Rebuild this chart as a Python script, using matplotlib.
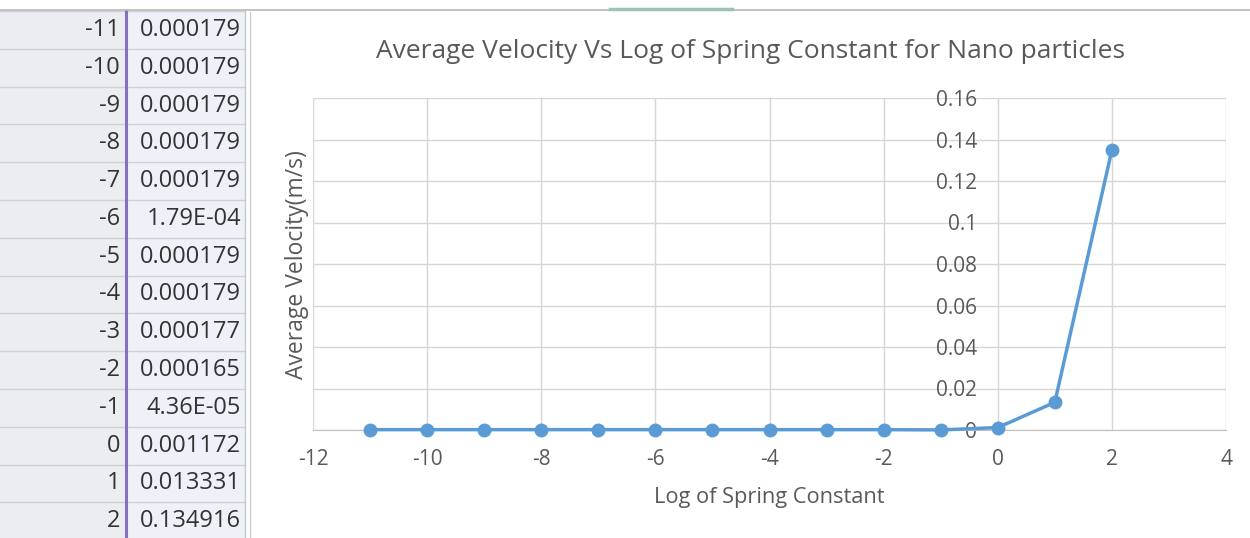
import matplotlib
matplotlib.use("Agg")
import matplotlib.pyplot as plt
from matplotlib.lines import Line2D
from matplotlib.patches import Rectangle

plt.rcParams['font.family'] = ['Open Sans', 'DejaVu Sans']

# ---- data ----
log_k = [-11, -10, -9, -8, -7, -6, -5, -4, -3, -2, -1, 0, 1, 2]
avg_velocity = [0.000179, 0.000179, 0.000179, 0.000179, 0.000179, 0.000179,
                0.000179, 0.000179, 0.000177, 0.000165, 4.36e-05, 0.001172,
                0.013331, 0.134916]
cell_text = ["0.000179", "0.000179", "0.000179", "0.000179", "0.000179",
             "1.79E-04", "0.000179", "0.000179", "0.000177", "0.000165",
             "4.36E-05", "0.001172", "0.013331", "0.134916"]
x_ticks = [-12, -10, -8, -6, -4, -2, 0, 2, 4]
y_ticks = [0, 0.02, 0.04, 0.06, 0.08, 0.1, 0.12, 0.14, 0.16]
y_tick_labels = ["0", "0.02", "0.04", "0.06", "0.08", "0.1", "0.12", "0.14", "0.16"]

title = "Average Velocity Vs Log of Spring Constant for Nano particles"
xlabel = "Log of Spring Constant"
ylabel = "Average Velocity(m/s)"

W, H = 1250, 538
fig = plt.figure(figsize=(W / 100, H / 100), dpi=100)
fig.patch.set_facecolor('white')

def fx(px):
    return px / W

def fy(py):
    return 1 - py / H

text_gray = '#595959'
grid_gray = '#D6D6D6'
line_blue = '#5B9BD5'

# ---- spreadsheet part (left) ----
row_top = 11
row_h = 37.8
n = len(log_k)
fig.patches.append(Rectangle((0, 0), fx(126), 1, transform=fig.transFigure,
                             facecolor='#ECECF3', edgecolor='none', zorder=0))
fig.patches.append(Rectangle((fx(126), 0), fx(245 - 126), 1, transform=fig.transFigure,
                             facecolor='#EEF1F8', edgecolor='none', zorder=0))
fig.patches.append(Rectangle((0, fy(row_top)), fx(1250), 1 - fy(row_top), transform=fig.transFigure,
                             facecolor='white', edgecolor='none', zorder=0))
for k in range(n + 1):
    yy = fy(row_top + k * row_h)
    fig.add_artist(Line2D([0, fx(245)], [yy, yy], color='#D0D0D6', lw=1.0))
fig.add_artist(Line2D([fx(245), fx(245)], [0, fy(row_top)], color='#C8C8CE', lw=1.0))
fig.add_artist(Line2D([fx(126), fx(126)], [0, fy(row_top)], color='#8870C0', lw=2.2))
for k in range(n):
    yc = fy(row_top + (k + 0.5) * row_h)
    fig.text(fx(120), yc, str(log_k[k]), ha='right', va='center',
             fontsize=17, color='#333333')
    fig.text(fx(241), yc, cell_text[k], ha='right', va='center',
             fontsize=17, color='#333333')

# top border line and chart border
fig.add_artist(Line2D([0, 1], [fy(10), fy(10)], color='#B8B8B8', lw=1.2))
fig.add_artist(Line2D([fx(610), fx(732)], [fy(9), fy(9)], color='#9CC4B2', lw=2.5))
fig.add_artist(Line2D([fx(250), fx(250)], [0, fy(12)], color='#CFCFCF', lw=1.0))

# ---- chart ----
ax = fig.add_axes([fx(313), fy(430), fx(1226 - 313), fy(98) - fy(430)])
ax.set_facecolor('white')
ax.plot(log_k, avg_velocity, color=line_blue, lw=2.5, marker='o',
        markersize=9, markerfacecolor=line_blue, markeredgecolor=line_blue,
        zorder=3, clip_on=False)
ax.set_xlim(-12, 4)
ax.set_ylim(0, 0.16)
ax.set_xticks(x_ticks)
ax.set_xticklabels([str(v) for v in x_ticks])
ax.set_yticks(y_ticks)
ax.set_yticklabels(y_tick_labels)
ax.grid(True, color=grid_gray, lw=1.0)
ax.set_axisbelow(True)
for s in ['top', 'right']:
    ax.spines[s].set_visible(False)
ax.spines['left'].set_position(('data', 0))
ax.spines['left'].set_visible(False)
ax.spines['bottom'].set_color('#BFBFBF')
ax.tick_params(axis='x', length=0, pad=14, labelsize=15, labelcolor=text_gray)
ax.tick_params(axis='y', length=0, pad=15, labelsize=15, labelcolor=text_gray)

ax.set_xlabel(xlabel, fontsize=15.7, color=text_gray)
ax.xaxis.set_label_coords(0.5, (538 - 498 - 108) / 332)
ax.xaxis.label.set_va('center')
ax.set_ylabel(ylabel, fontsize=16.5, color=text_gray)
ax.yaxis.set_label_coords((297 - 313) / 913, (538 - 265 - 108) / 332)
ax.yaxis.label.set_va('center')

fig.text(fx(750), fy(51), title, ha='center', va='center', fontsize=19, color=text_gray)

fig.savefig('out.png', dpi=100)
